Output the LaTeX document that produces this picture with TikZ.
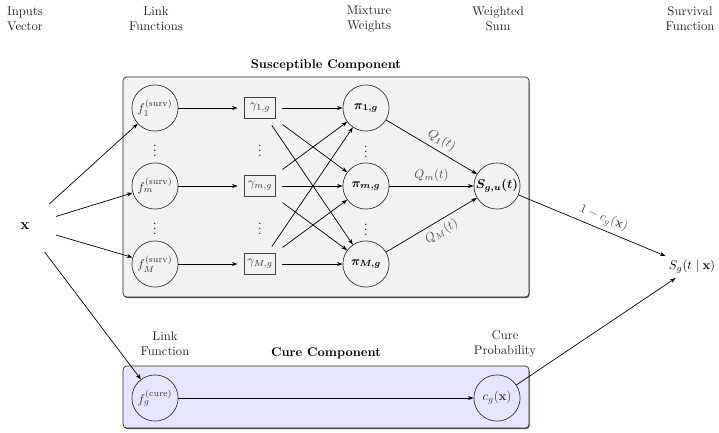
\documentclass[tikz,border=0pt]{standalone}
\usepackage{amsmath}
\usetikzlibrary{arrows.meta,shadows}
\begin{document}
\begin{tikzpicture}[x=0.7905pt,y=-0.7905pt,
  unit/.style={circle,draw=black!85,line width=0.5pt,minimum size=36.5pt,inner sep=0pt,text=black!80},
  bunit/.style={unit,text=black},
  gbox/.style={rectangle,draw=black!75,line width=0.7pt,minimum width=24.5pt,minimum height=16.5pt,inner sep=1pt,outer sep=5.5pt,text=black!80},
  conn/.style={-{Stealth[length=4.5pt,width=3.2pt]},line width=0.55pt},
  hdr/.style={align=center,text=black!85},
  panel/.style={draw=black!85,line width=0.5pt,rounded corners=3pt,drop shadow={shadow xshift=0.5pt,shadow yshift=-0.9pt,fill=black!70,opacity=1}},
  qlab/.style={sloped,text=black!70}
]
\useasboundingbox (0,0) rectangle (719,432);

% panels
\path[panel,fill=black!5] (123,77) rectangle (529,297);
\path[panel,fill=blue!10] (123,366) rectangle (529,428);

% headers
\node[hdr] (hIn) at (25,19) {Inputs\\Vector};
\node[hdr] (hLink) at (156,19) {Link\\Functions};
\node[hdr] (hMix) at (369,19) {Mixture\\Weights};
\node[hdr] (hSum) at (498,19) {Weighted\\Sum};
\node[hdr] (hSurv) at (690,19) {Survival\\Function};

\node[font=\bfseries] (tSus) at (326,65) {Susceptible Component};
\node[font=\bfseries] (tCure) at (326,353) {Cure Component};
\node[hdr] (hLinkC) at (165,344) {Link\\Function};
\node[hdr] (hProb) at (505,344) {Cure\\Probability};

% input
\node[circle,minimum size=51pt,inner sep=0pt] (X) at (25,226) {\large$\mathbf{x}$};

% link functions
\node[unit] (f1) at (155,108) {$f_1^{(\mathrm{surv})}$};
\node[unit] (fm) at (155,186) {$f_m^{(\mathrm{surv})}$};
\node[unit] (fM) at (155,264) {$f_M^{(\mathrm{surv})}$};
\node (d1) at (155,147) {$\vdots$};
\node (d2) at (155,225) {$\vdots$};

% gammas
\node[gbox] (g1) at (260,108) {$\gamma_{1,g}$};
\node[gbox] (gm) at (260,186) {$\gamma_{m,g}$};
\node[gbox] (gM) at (260,264) {$\gamma_{M,g}$};
\node (d3) at (260,147) {$\vdots$};
\node (d4) at (260,225) {$\vdots$};

% pis
\node[bunit] (p1) at (366,108) {$\boldsymbol{\pi_{1,g}}$};
\node[bunit] (pm) at (366,186) {$\boldsymbol{\pi_{m,g}}$};
\node[bunit] (pM) at (366,264) {$\boldsymbol{\pi_{M,g}}$};
\node (d5) at (366,148) {$\vdots$};
\node (d6) at (366,226) {$\vdots$};

% weighted sum
\node[bunit] (S) at (497,186) {$\boldsymbol{S_{g,u}(t)}$};

% output
\node (Sg) at (692,267) {$S_g(t\mid\mathbf{x})$};

% cure
\node[unit] (fc) at (155,398) {$f_g^{(\mathrm{cure})}$};
\node[unit] (cg) at (497,398) {$c_g(\mathbf{x})$};

% connectors
\draw[conn] (X) -- (f1);
\draw[conn] (X) -- (fm);
\draw[conn] (X) -- (fM);
\draw[conn] (X) -- (fc);

\draw[conn] (f1) -- (g1);
\draw[conn] (fm) -- (gm);
\draw[conn] (fM) -- (gM);

\foreach \a in {g1,gm,gM}{
  \foreach \b in {p1,pm,pM}{
    \draw[conn] (\a) -- (\b);
  }
}

\draw[conn] (p1) -- node[qlab,above,pos=0.55]{$Q_1(t)$} (S);
\draw[conn] (pm) -- node[qlab,above,pos=0.5]{$Q_m(t)$} (S);
\draw[conn] (pM) -- node[qlab,below,pos=0.55]{$Q_M(t)$} (S);

\draw[conn] (S) -- node[qlab,above,pos=0.55]{$1-c_g(\mathbf{x})$} (Sg);
\draw[conn] (fc) -- (cg);
\draw[conn] (cg) -- (Sg);
\end{tikzpicture}
\end{document}
